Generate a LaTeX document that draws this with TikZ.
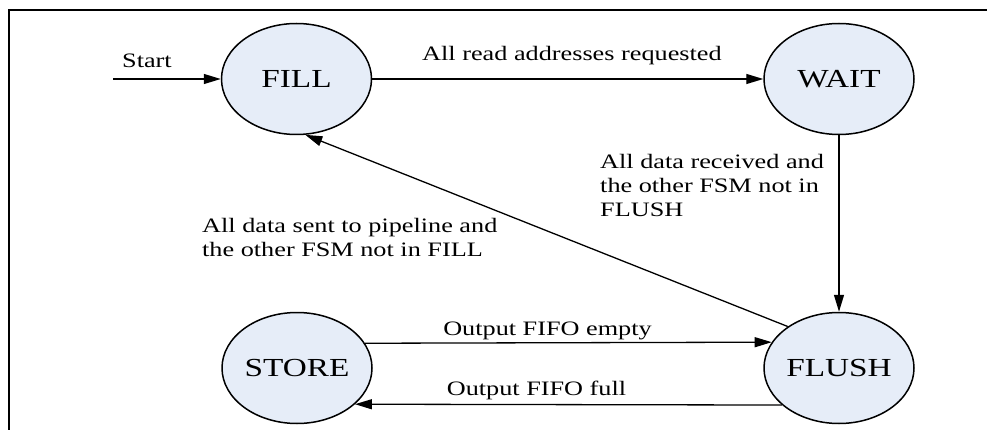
\documentclass[tikz,border=0pt]{standalone}
\usepackage{fontspec}
\setmainfont[FakeStretch=1.28]{Liberation Serif}
\usetikzlibrary{shapes.geometric,arrows.meta}
\definecolor{statefill}{RGB}{230,237,248}
\tikzset{
  state/.style={ellipse, draw=black, line width=1.5pt, fill=statefill,
    minimum width=150pt, minimum height=111pt, inner sep=0pt,
    font=\fontsize{26}{30}\selectfont},
  trans/.style={line width=1.3pt, -{Triangle[length=17pt,width=10pt]}},
  lbl/.style={inner sep=0pt, font=\fontsize{20.5}{24}\selectfont},
  frameline/.style={line width=1.6pt}
}
\begin{document}
\begin{tikzpicture}[x=1pt,y=-1pt]
\useasboundingbox (0,0) rectangle (987,430);
\draw[frameline] (9,430) -- (9,10) -- (987,10);

\node[state] (fill)  at (296.5,79) {FILL};
\node[state] (wait)  at (839,79)   {WAIT};
\node[state] (store) at (297,368)  {STORE};
\node[state] (flush) at (839,368)  {FLUSH};

\coordinate (start) at (113,79);

\draw[trans] (start) -- (fill.west);
\draw[trans] (fill.east) -- (wait.west);
\draw[trans] (wait.south) -- (flush.north);
\draw[trans] (flush.141.7) -- (fill.-81);
\draw[trans] (store.20.5) -- (flush.159.5);
\draw[trans] (flush.-147.8) -- (store.-32.2);

\node[lbl, anchor=base west] (lstart) at (122,68) {Start};
\node[lbl, anchor=base west] (lread) at (422,61) {All read addresses requested};
\node[lbl, anchor=north west, align=left] (lrecv) at (600,154)
  {All data received and\\the other FSM not in\\FLUSH};
\node[lbl, anchor=north west, align=left] (lsent) at (202,218)
  {All data sent to pipeline and\\the other FSM not in FILL};
\node[lbl, anchor=base] (lempty) at (547.5,335) {Output FIFO empty};
\node[lbl, anchor=base] (lfull) at (536.5,395) {Output FIFO full};
\end{tikzpicture}
\end{document}
